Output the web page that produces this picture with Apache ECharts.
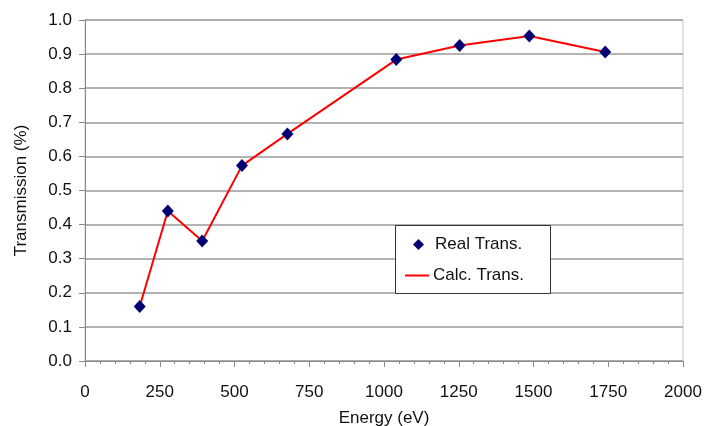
<!DOCTYPE html>
<html><head><meta charset="utf-8">
<script src="https://cdn.jsdelivr.net/npm/echarts@6/dist/echarts.min.js"></script>
<style>html,body{margin:0;padding:0;background:#fff}#c{width:704px;height:426px}</style>
</head><body><div id="c"></div>
<script>
var energies = [183, 277, 392, 525, 677, 1041, 1253, 1486, 1740];
var realTrans = [0.16, 0.44, 0.352, 0.573, 0.666, 0.884, 0.925, 0.953, 0.906];
var calcTrans = [0.16, 0.44, 0.352, 0.573, 0.666, 0.884, 0.925, 0.953, 0.906];
var xTicks = [0, 250, 500, 750, 1000, 1250, 1500, 1750, 2000];
var yTicks = [0, 0.1, 0.2, 0.3, 0.4, 0.5, 0.6, 0.7, 0.8, 0.9, 1.0];

var font = 'Liberation Sans, Arial, sans-serif';
var chart = echarts.init(document.getElementById('c'));
chart.setOption({
  animation: false,
  backgroundColor: '#fff',
  grid: {left: 85, right: 21, top: 20, bottom: 65, show: true, borderColor: '#c8c8c8', borderWidth: 1,
         containLabel: false, outerBoundsMode: 'none'},
  graphic: [{
    type: 'rect', left: 395, top: 225, z: 100,
    shape: {width: 155, height: 68},
    style: {fill: '#fff', stroke: '#333', lineWidth: 1}
  }],
  xAxis: {
    type: 'value', min: xTicks[0], max: xTicks[xTicks.length-1], interval: 250,
    name: 'Energy (eV)', nameLocation: 'middle', nameGap: 49,
    nameTextStyle: {fontFamily: font, fontSize: 17, color: '#111'},
    axisLine: {show: true, lineStyle: {color: '#8a8a8a', width: 1}},
    axisTick: {show: true, length: 6, inside: false, lineStyle: {color: '#8a8a8a'}},
    minorTick: {show: true, splitNumber: 5, length: 3, lineStyle: {color: '#8a8a8a'}},
    axisLabel: {fontFamily: font, fontSize: 17, color: '#111', margin: 23, formatter: function(v){return String(v);}},
    splitLine: {show: false}
  },
  yAxis: {
    type: 'value', min: yTicks[0], max: yTicks[yTicks.length-1], interval: 0.1,
    name: 'Transmission (%)', nameLocation: 'middle', nameGap: 55,
    nameTextStyle: {fontFamily: font, fontSize: 17, color: '#111'},
    axisLine: {show: true, lineStyle: {color: '#8a8a8a', width: 1}},
    axisTick: {show: true, length: 6, lineStyle: {color: '#8a8a8a'}},
    axisLabel: {fontFamily: font, fontSize: 17, color: '#111', margin: 13, formatter: function(v){return v.toFixed(1);}},
    splitLine: {show: true, lineStyle: {color: '#9a9a9a', width: 1.5}}
  },
  legend: [{
    orient: 'vertical', left: 413, top: 236, z: 101,
    padding: 0, itemWidth: 11, itemHeight: 11, itemGap: 10,
    textStyle: {fontFamily: font, fontSize: 17, color: '#111', padding: [0, 0, 0, 6]},
    data: [{name: 'Real Trans.', icon: 'diamond', itemStyle: {opacity: 1}}]
  }, {
    orient: 'vertical', left: 405, top: 267, z: 101,
    padding: 0, itemWidth: 24, itemHeight: 2, itemGap: 10,
    textStyle: {fontFamily: font, fontSize: 17, color: '#111', padding: [0, 0, 0, -1]},
    data: [{name: 'Calc. Trans.', icon: 'rect'}]
  }],
  series: [
    {name: 'Calc. Trans.', type: 'line', symbol: 'none', z: 2,
     lineStyle: {color: '#ff0000', width: 2}, itemStyle: {color: '#ff0000'},
     data: energies.map(function(e, i){return [e, calcTrans[i]];})},
    {name: 'Real Trans.', type: 'scatter', symbol: 'diamond', symbolSize: [12, 13], z: 3,
     itemStyle: {color: '#000075', opacity: 1},
     data: energies.map(function(e, i){return [e, realTrans[i]];})}
  ]
});
</script></body></html>
